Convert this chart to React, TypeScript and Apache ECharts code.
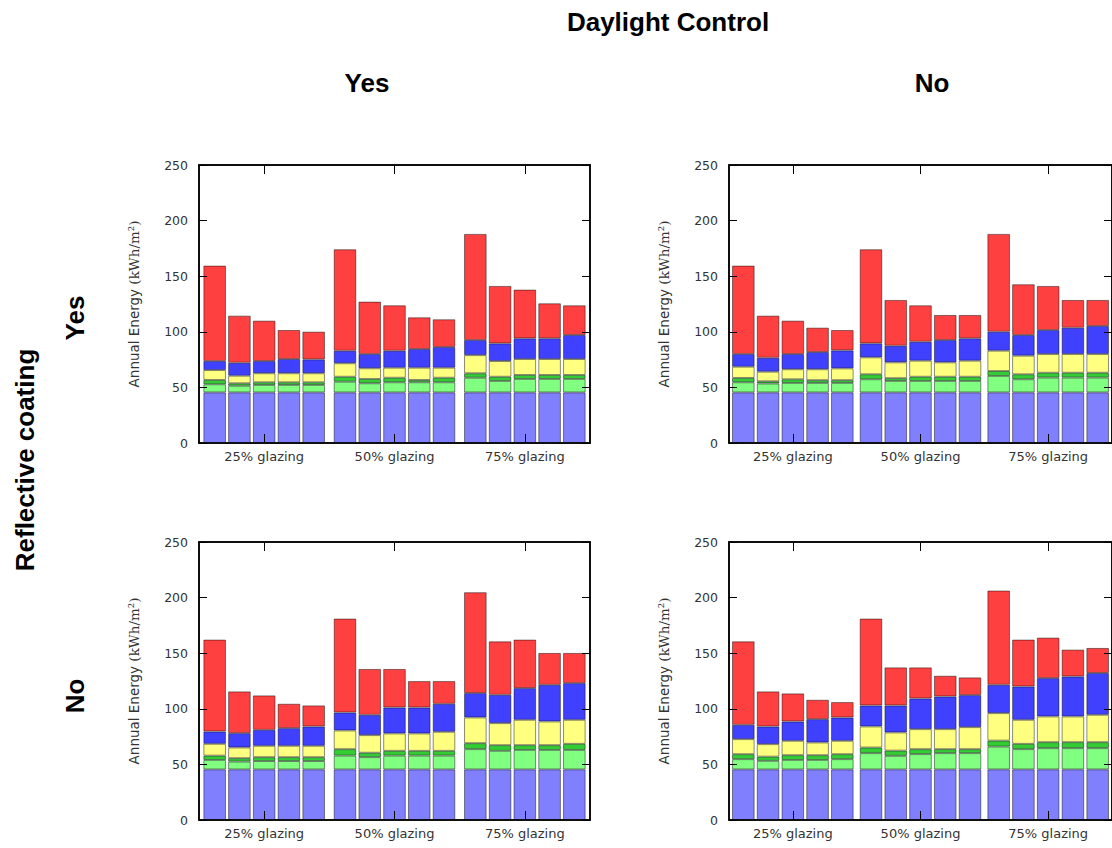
import React, { useEffect, useRef } from "react";
import * as echarts from "echarts";

// Categories and axis ticks
const groups = ["25% glazing", "50% glazing", "75% glazing"];
const barsPerGroup = 5;
const yMin = 0;
const yMax = 250;
const yStep = 50;
const segmentNames = ["Segment 1", "Segment 2", "Segment 3", "Segment 4", "Segment 5", "Segment 6"];
const segmentColors = ["#8080ff", "#80ff80", "#33cc33", "#ffff80", "#4040ff", "#ff4040"];

// Titles
const topTitle = "Daylight Control";
const colTitles = ["Yes", "No"];
const rowTitle = "Reflective coating";
const rowTitles = ["Yes", "No"];
const yAxisName = "Annual Energy ";
const yAxisUnit = "(kWh/m²)";

// Panel: Daylight Yes / Reflective Yes (top-left)
const tlSeg1 = [45.5, 45.5, 45.5, 45.5, 45.5, 45.5, 45.5, 45.5, 45.5, 45.5, 45.5, 45.5, 45.5, 45.5, 45.5];
const tlSeg2 = [7.3, 6, 6.7, 6.7, 6.7, 9.6, 8.2, 9.1, 9.1, 9.1, 13.2, 10.3, 12.1, 12.1, 12.1];
const tlSeg3 = [3.9, 2.2, 2.4, 2.4, 2.4, 4.5, 3.9, 4.1, 2.1, 4.1, 4, 3.8, 3.6, 3.6, 3.6];
const tlSeg4 = [8.9, 6.8, 8.1, 8.1, 8.1, 12.1, 9.6, 9, 11, 9, 16.3, 14.1, 14.3, 14.3, 14.3];
const tlSeg5 = [8.1, 11.7, 11, 12.8, 12.5, 11.3, 12.8, 15.3, 16.8, 18.6, 13.6, 15.9, 18.6, 18.6, 21.6];
const tlSeg6 = [85.8, 42.3, 36.3, 26.1, 24.9, 91.2, 47.1, 40.8, 28.5, 24.9, 95.4, 51.6, 43.8, 31.5, 26.7];

// Panel: Daylight No / Reflective Yes (top-right)
const trSeg1 = [45.5, 45.5, 45.5, 45.5, 45.5, 45.5, 45.5, 45.5, 45.5, 45.5, 45.5, 45.5, 45.5, 45.5, 45.5];
const trSeg2 = [9.1, 8, 8.5, 8.5, 8.5, 11.8, 10.3, 10.3, 10.3, 10.3, 14.8, 11.8, 13.3, 13.3, 13.3];
const trSeg3 = [3.9, 2, 3.3, 2.5, 2.5, 4.5, 2.5, 3.8, 3.8, 3.8, 4.4, 4.5, 4.4, 4.4, 4.4];
const trSeg4 = [10.1, 8.6, 9, 9.8, 10.6, 15.2, 14.2, 14.4, 12.9, 14.4, 18.3, 16.7, 16.8, 16.8, 16.8];
const trSeg5 = [11.4, 12.6, 13.7, 15.5, 16.2, 12.6, 15, 17.1, 20.1, 20.1, 17.1, 18.6, 21.6, 23.7, 25.2];
const trSeg6 = [79.5, 37.8, 30, 21.9, 18.3, 84.6, 41.1, 32.7, 22.5, 21, 87.9, 45.6, 39.6, 24.9, 23.4];

// Panel: Daylight Yes / Reflective No (bottom-left)
const blSeg1 = [45.5, 45.5, 45.5, 45.5, 45.5, 45.5, 45.5, 45.5, 45.5, 45.5, 45.5, 45.5, 45.5, 45.5, 45.5];
const blSeg2 = [8.5, 7, 7.5, 7.5, 7.5, 12.4, 11, 12.4, 12.4, 12.4, 18.2, 16.7, 17.5, 17.5, 17.5];
const blSeg3 = [3.9, 3.1, 3.5, 3.5, 3.5, 5.8, 4, 4.3, 4.3, 4.3, 5.4, 5.1, 4.3, 4.3, 5.5];
const blSeg4 = [10.6, 9.6, 10.2, 10.2, 10.2, 16.8, 15.8, 15.6, 15.6, 17.1, 23.1, 19.8, 22.8, 21.3, 21.6];
const blSeg5 = [11.1, 12.9, 14.4, 15.9, 17.4, 16.2, 18.3, 23.4, 23.4, 25.2, 21.9, 25.5, 28.5, 33, 33];
const blSeg6 = [82.6, 37.5, 30.9, 21.9, 18.9, 84.4, 41.2, 34.6, 23.7, 20.4, 90.7, 48, 43.6, 28.6, 27.1];

// Panel: Daylight No / Reflective No (bottom-right)
const brSeg1 = [45.5, 45.5, 45.5, 45.5, 45.5, 45.5, 45.5, 45.5, 45.5, 45.5, 45.5, 45.5, 45.5, 45.5, 45.5];
const brSeg2 = [9.2, 7.7, 8.5, 8.5, 9.2, 14.6, 12.2, 13.7, 14.6, 14.6, 20.5, 18.2, 19.1, 19.1, 19.1];
const brSeg3 = [4.5, 3.8, 4.3, 4.3, 4.5, 5.1, 4.7, 4.5, 3.6, 3.6, 5.4, 4.8, 5.4, 5.4, 5.4];
const brSeg4 = [13.5, 11.2, 12.9, 11.4, 12, 18.9, 16.3, 18, 18, 19.8, 24.7, 21.6, 23.1, 23.1, 24.6];
const brSeg5 = [12.9, 15.9, 17.4, 21, 21, 18.9, 24.3, 27.6, 29.4, 28.8, 25.5, 30, 34.5, 36, 37.6];
const brSeg6 = [75, 31.5, 25.2, 17.4, 13.8, 78.1, 34.2, 27.9, 18.6, 15.9, 84.7, 42.1, 36.4, 24.1, 22.5];

const panelData = [
  [tlSeg1, tlSeg2, tlSeg3, tlSeg4, tlSeg5, tlSeg6],
  [trSeg1, trSeg2, trSeg3, trSeg4, trSeg5, trSeg6],
  [blSeg1, blSeg2, blSeg3, blSeg4, blSeg5, blSeg6],
  [brSeg1, brSeg2, brSeg3, brSeg4, brSeg5, brSeg6],
];

// Layout (positions in pixels)
const panelLayout = [
  { left: 199, top: 165 },
  { left: 729, top: 165 },
  { left: 199, top: 542 },
  { left: 729, top: 542 },
];
const panelWidth = 391;
const panelHeight = 278;

const SANS = "'DejaVu Sans', sans-serif";
const BOLD = "'Liberation Sans', Arial, Helvetica, sans-serif";

function buildOption() {
  const grid: any[] = [];
  const xAxis: any[] = [];
  const yAxis: any[] = [];
  const series: any[] = [];
  const spine = { color: "#000", width: 1.5 };
  const tickStyle = { color: "#000", width: 1 };

  panelLayout.forEach((lay, i) => {
    grid.push({
      left: lay.left,
      top: lay.top,
      width: panelWidth,
      height: panelHeight,
      containLabel: false,
      show: true,
      borderColor: "#000",
      borderWidth: 1.5,
      backgroundColor: "transparent",
    });
    xAxis.push({
      gridIndex: i,
      type: "category",
      data: groups,
      position: "bottom",
      z: 10,
      axisLine: { show: true, onZero: false, lineStyle: spine },
      axisTick: { show: true, inside: true, alignWithLabel: true, length: 9, lineStyle: tickStyle },
      axisLabel: { color: "#333", fontSize: 13, fontFamily: SANS, margin: 7 },
      splitLine: { show: false },
    });
    xAxis.push({
      gridIndex: i,
      type: "category",
      data: groups,
      position: "top",
      z: 10,
      axisLine: { show: true, onZero: false, lineStyle: spine },
      axisTick: { show: true, inside: true, alignWithLabel: true, length: 9, lineStyle: tickStyle },
      axisLabel: { show: false },
      splitLine: { show: false },
    });
    yAxis.push({
      gridIndex: i,
      type: "value",
      min: yMin,
      max: yMax,
      interval: yStep,
      position: "left",
      z: 10,
      axisLine: { show: true, onZero: false, lineStyle: spine },
      axisTick: { show: true, inside: true, length: 8, lineStyle: tickStyle },
      axisLabel: { color: "#333", fontSize: 12.5, fontFamily: SANS, margin: 11 },
      splitLine: { show: false },
      name: `{a|${yAxisName}}{b|${yAxisUnit}}`,
      nameLocation: "middle",
      nameGap: 58,
      nameTextStyle: {
        rich: {
          a: { fontSize: 13.5, fontFamily: SANS, color: "#333" },
          b: { fontSize: 13.5, fontFamily: "'DejaVu Serif', serif", color: "#333" },
        },
      },
    });
    yAxis.push({
      gridIndex: i,
      type: "value",
      min: yMin,
      max: yMax,
      interval: yStep,
      position: "right",
      z: 10,
      axisLine: { show: true, onZero: false, lineStyle: spine },
      axisTick: { show: true, inside: true, length: 8, lineStyle: tickStyle },
      axisLabel: { show: false },
      splitLine: { show: false },
    });

    const segs = panelData[i];
    for (let j = 0; j < barsPerGroup; j++) {
      segs.forEach((vals, s) => {
        series.push({
          type: "bar",
          name: segmentNames[s],
          xAxisIndex: 2 * i,
          yAxisIndex: 2 * i,
          stack: `p${i}-b${j}`,
          barWidth: 22.5,
          barGap: "10%",
          data: groups.map((_, g) => vals[g * barsPerGroup + j]),
          itemStyle: { color: segmentColors[s], borderColor: "rgba(0,0,0,0.5)", borderWidth: 0.9 },
          silent: true,
        });
      });
    }
  });

  const titleStyle = (text: string) => ({
    text,
    fontSize: 26,
    fontWeight: "bold",
    fontFamily: BOLD,
    fill: "#000",
    align: "center",
    verticalAlign: "middle",
  });

  const graphic = [
    { type: "text", x: 668, y: 22, style: titleStyle(topTitle) },
    { type: "text", x: 367, y: 83, style: titleStyle(colTitles[0]) },
    { type: "text", x: 932, y: 83, style: titleStyle(colTitles[1]) },
    { type: "text", x: 25, y: 460, rotation: Math.PI / 2, style: titleStyle(rowTitle) },
    { type: "text", x: 75, y: 318, rotation: Math.PI / 2, style: titleStyle(rowTitles[0]) },
    { type: "text", x: 75, y: 696, rotation: Math.PI / 2, style: titleStyle(rowTitles[1]) },
  ];

  return {
    animation: false,
    backgroundColor: "#fff",
    grid,
    xAxis,
    yAxis,
    series,
    graphic,
  };
}

export default function App() {
  const ref = useRef<HTMLDivElement>(null);
  useEffect(() => {
    if (!ref.current) return;
    const chart = echarts.init(ref.current, undefined, { renderer: "svg" });
    chart.setOption(buildOption() as any);
    return () => chart.dispose();
  }, []);
  return (
    <div
      ref={ref}
      style={{ position: "absolute", left: 0, top: 0, width: 1112, height: 848, overflow: "hidden" }}
    />
  );
}
